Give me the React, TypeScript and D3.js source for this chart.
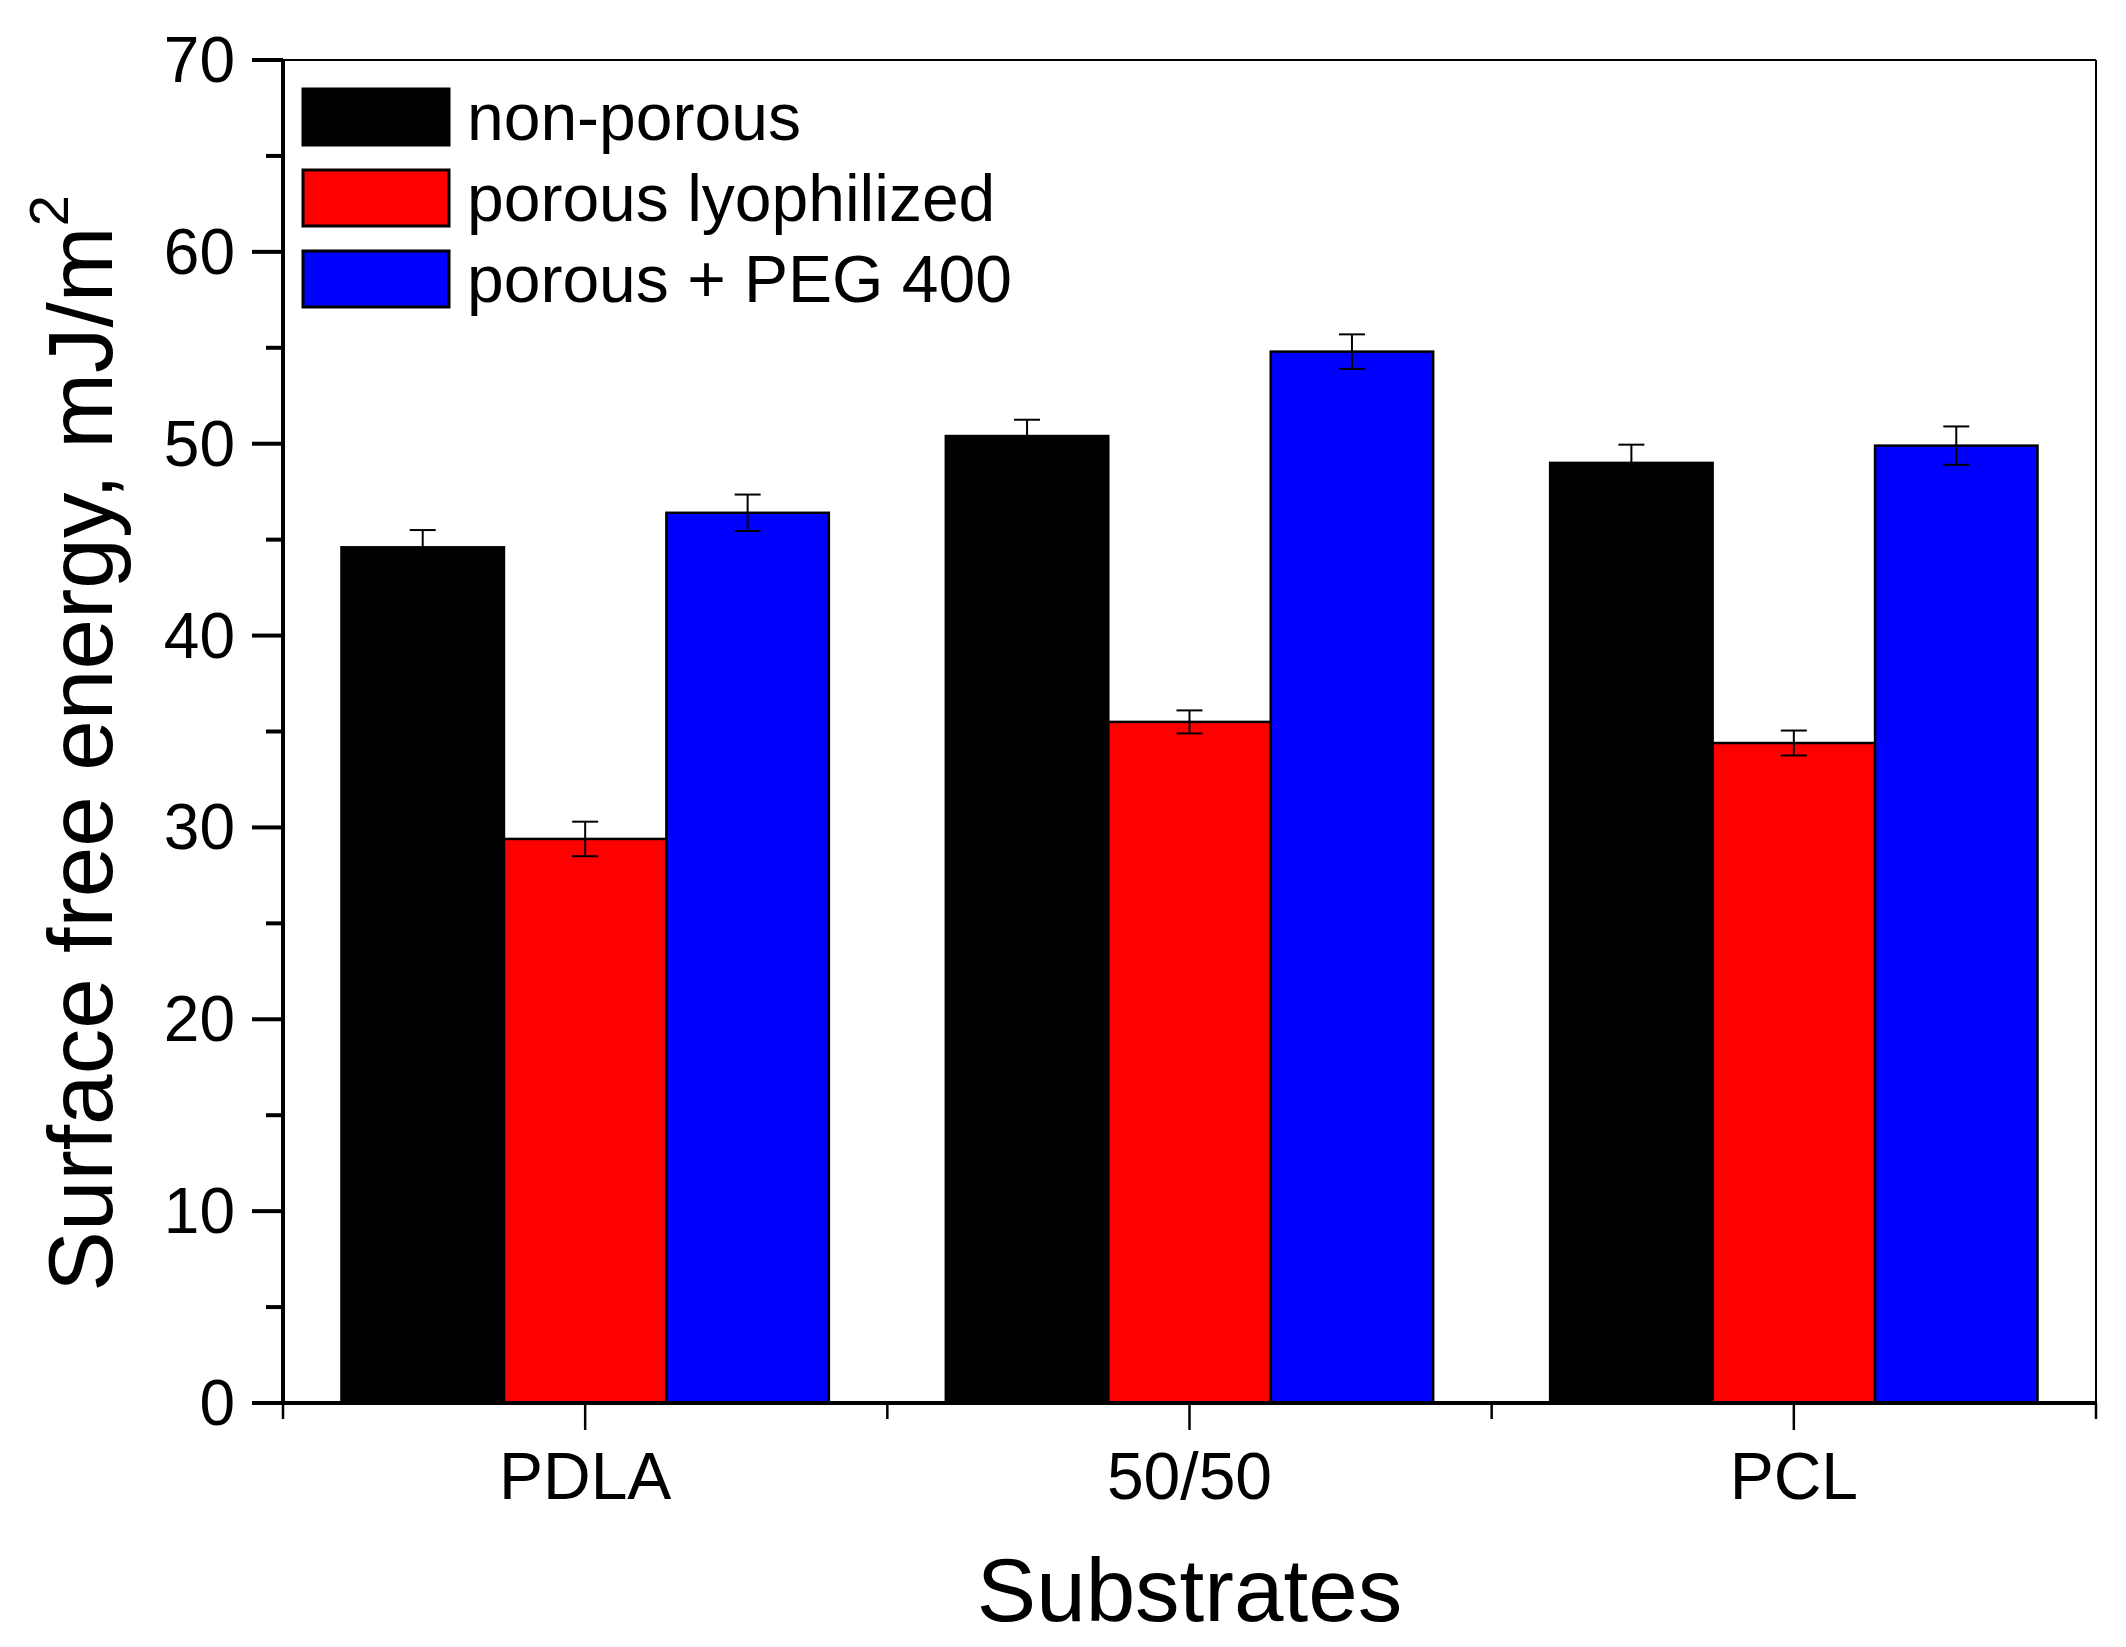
import React from 'react';
import * as d3 from 'd3';

const categories = ['PDLA', '50/50', 'PCL'];
const seriesNames = ['non-porous', 'porous lyophilized', 'porous + PEG 400'];
const seriesColors = ['#000000', '#ff0000', '#0000ff'];
const nonPorous = [44.6, 50.4, 49.0];
const porousLyo = [29.4, 35.5, 34.4];
const porousPeg = [46.4, 54.8, 49.9];
const errNonPorous = [0.9, 0.85, 0.95];
const errPorousLyo = [0.9, 0.6, 0.65];
const errPorousPeg = [0.95, 0.9, 1.0];
const yMajorTicks = [0, 10, 20, 30, 40, 50, 60, 70];
const yMinorTicks = [5, 15, 25, 35, 45, 55, 65];

const values = [nonPorous, porousLyo, porousPeg];
const errors = [errNonPorous, errPorousLyo, errPorousPeg];

const W = 2126;
const H = 1647;
const margin = { top: 60, right: 30, bottom: 244, left: 283 };
const font = '"Liberation Sans", Arial, sans-serif';

export default function App() {
  const x0 = margin.left;
  const x1 = W - margin.right;
  const yTop = margin.top;
  const yBot = H - margin.bottom;

  const x = d3.scaleBand<string>().domain(categories).range([x0, x1]).padding(0);
  const xs = d3
    .scaleBand<string>()
    .domain(seriesNames)
    .range([0, x.bandwidth()])
    .paddingInner(0)
    .paddingOuter(0.36);
  const y = d3.scaleLinear().domain([0, 70]).range([yBot, yTop]);

  const capW = 26;
  const edges = [...categories.map((c) => x(c) as number), x1];

  return (
    <svg
      width={W}
      height={H}
      style={{ position: 'absolute', left: 0, top: 0, background: '#fff' }}
      fontFamily={font}
    >
      <rect width={W} height={H} fill="#fff" />

      {/* bars */}
      {seriesNames.map((s, si) =>
        categories.map((c, ci) => {
          const bx = (x(c) as number) + (xs(s) as number);
          const by = y(values[si][ci]);
          return (
            <rect
              key={s + c}
              x={bx}
              y={by}
              width={xs.bandwidth()}
              height={yBot - by}
              fill={seriesColors[si]}
              stroke="#000"
              strokeWidth={2.5}
            />
          );
        })
      )}

      {/* error bars */}
      {seriesNames.map((s, si) =>
        categories.map((c, ci) => {
          const cx = (x(c) as number) + (xs(s) as number) + xs.bandwidth() / 2;
          const hi = y(values[si][ci] + errors[si][ci]);
          const lo = y(values[si][ci] - errors[si][ci]);
          return (
            <g key={'e' + s + c} stroke="#000" strokeWidth={2}>
              <line x1={cx} x2={cx} y1={hi} y2={lo} />
              <line x1={cx - capW / 2} x2={cx + capW / 2} y1={hi} y2={hi} />
              <line x1={cx - capW / 2} x2={cx + capW / 2} y1={lo} y2={lo} />
            </g>
          );
        })
      )}

      {/* frame */}
      <line x1={x0} x2={x1} y1={yTop} y2={yTop} stroke="#000" strokeWidth={2} />
      <line x1={x1} x2={x1} y1={yTop} y2={yBot} stroke="#000" strokeWidth={2} />
      <line x1={x0} x2={x0} y1={yTop - 1} y2={yBot + 2} stroke="#000" strokeWidth={4} />
      <line x1={x0 - 2} x2={x1 + 1} y1={yBot} y2={yBot} stroke="#000" strokeWidth={4} />

      {/* y ticks */}
      {yMajorTicks.map((t) => (
        <g key={'ym' + t}>
          <line x1={x0 - 31} x2={x0} y1={y(t)} y2={y(t)} stroke="#000" strokeWidth={4} />
          <text
            x={x0 - 48}
            y={y(t)}
            textAnchor="end"
            dominantBaseline="central"
            fontSize={64}
          >
            {t}
          </text>
        </g>
      ))}
      {yMinorTicks.map((t) => (
        <line key={'yn' + t} x1={x0 - 17} x2={x0} y1={y(t)} y2={y(t)} stroke="#000" strokeWidth={4} />
      ))}

      {/* x ticks */}
      {categories.map((c) => {
        const cx = (x(c) as number) + x.bandwidth() / 2;
        return (
          <g key={'xt' + c}>
            <line x1={cx} x2={cx} y1={yBot} y2={yBot + 27} stroke="#000" strokeWidth={2.5} />
            <text x={cx} y={yBot + 96} textAnchor="middle" fontSize={66}>
              {c}
            </text>
          </g>
        );
      })}
      {edges.map((e, i) => (
        <line key={'xe' + i} x1={e} x2={e} y1={yBot} y2={yBot + 16} stroke="#000" strokeWidth={2.5} />
      ))}

      {/* axis titles */}
      <text x={(x0 + x1) / 2} y={1621} textAnchor="middle" fontSize={89}>
        Substrates
      </text>
      <text
        transform={`translate(112, ${(yTop + yBot) / 2 + 12}) rotate(-90)`}
        textAnchor="middle"
        fontSize={91}
      >
        Surface free energy, mJ/m
        <tspan fontSize={56} dy={-44}>
          2
        </tspan>
      </text>

      {/* legend */}
      {seriesNames.map((s, i) => {
        const ly = 89 + i * 81;
        return (
          <g key={'lg' + s}>
            <rect x={303} y={ly} width={146} height={56} fill={seriesColors[i]} stroke="#000" strokeWidth={3} />
            <text x={467} y={ly + 28} dominantBaseline="central" fontSize={66}>
              {s}
            </text>
          </g>
        );
      })}
    </svg>
  );
}
